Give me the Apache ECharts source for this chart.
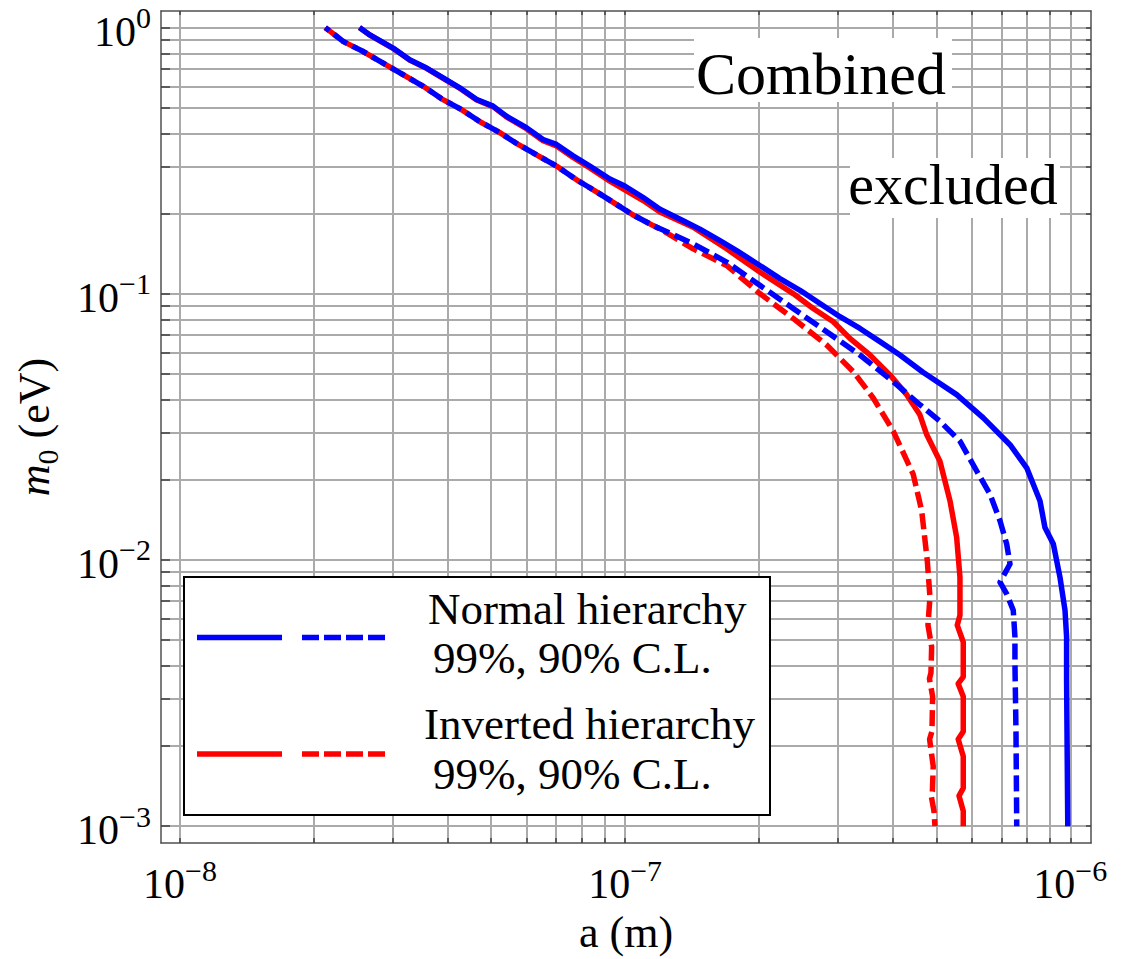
<!DOCTYPE html>
<html>
<head>
<meta charset="utf-8">
<script src="https://cdn.jsdelivr.net/npm/echarts@6/dist/echarts.min.js"></script>
<style>
  html, body { margin: 0; padding: 0; background: #ffffff; }
  #chart { width: 1124px; height: 959px; }
</style>
</head>
<body>
<div id="chart"></div>
<script>
// Exclusion contours in the (a, m0) plane. Each point is [a in metres, m0 in eV].
const nh99 = [
  [2.53e-8, 1.0], [2.67e-8, 0.939], [3.01e-8, 0.838], [3.28e-8, 0.757], [3.58e-8, 0.705],
  [3.90e-8, 0.647], [4.25e-8, 0.594], [4.64e-8, 0.537], [5.05e-8, 0.507], [5.41e-8, 0.465],
  [6.00e-8, 0.421], [6.54e-8, 0.380], [7.01e-8, 0.364], [7.64e-8, 0.330], [8.33e-8, 0.302],
  [9.24e-8, 0.270], [9.98e-8, 0.254], [1.098e-7, 0.230], [1.197e-7, 0.208], [1.350e-7, 0.188],
  [1.472e-7, 0.175], [1.633e-7, 0.1585], [1.780e-7, 0.1454], [2.007e-7, 0.1278], [2.227e-7, 0.1140],
  [2.470e-7, 0.1031], [2.739e-7, 0.0919], [3.038e-7, 0.0820], [3.369e-7, 0.0741], [3.736e-7, 0.0661],
  [4.143e-7, 0.0589], [4.667e-7, 0.0507], [5.555e-7, 0.0418], [6.376e-7, 0.0342],
  [7.32e-7, 0.0271], [7.98e-7, 0.0222], [8.55e-7, 0.01667], [8.77e-7, 0.01325], [9.16e-7, 0.01148],
  [9.48e-7, 0.00861], [9.73e-7, 0.00647], [9.81e-7, 0.00514], [9.81e-7, 0.00354], [9.87e-7, 0.001]
];
const nh90 = [
  [2.12e-8, 1.0], [2.33e-8, 0.886], [2.58e-8, 0.813], [2.86e-8, 0.736], [3.17e-8, 0.666],
  [3.52e-8, 0.602], [3.87e-8, 0.540], [4.29e-8, 0.492], [4.72e-8, 0.443], [5.23e-8, 0.403],
  [5.75e-8, 0.364], [6.38e-8, 0.330], [7.01e-8, 0.302], [7.78e-8, 0.268], [8.55e-8, 0.2437],
  [9.40e-8, 0.2206], [1.042e-7, 0.1977], [1.156e-7, 0.1804], [1.422e-7, 0.1541], [1.690e-7, 0.1316],
  [2.007e-7, 0.1076], [2.385e-7, 0.0881], [2.836e-7, 0.0720], [3.369e-7, 0.0589], [4.002e-7, 0.0468],
  [4.593e-7, 0.0383], [5.095e-7, 0.0332], [5.651e-7, 0.02795], [6.162e-7, 0.02159], [6.602e-7, 0.01765],
  [6.951e-7, 0.01404], [7.196e-7, 0.01148], [7.32e-7, 0.00966], [6.951e-7, 0.00825], [7.196e-7, 0.00746],
  [7.445e-7, 0.00647], [7.51e-7, 0.00514], [7.51e-7, 0.00408], [7.55e-7, 0.0023], [7.58e-7, 0.001]
];
const ih99 = [
  [2.53e-8, 1.0], [2.67e-8, 0.937], [3.01e-8, 0.836], [3.28e-8, 0.755], [3.58e-8, 0.703],
  [3.90e-8, 0.645], [4.25e-8, 0.592], [4.64e-8, 0.535], [5.05e-8, 0.505], [5.41e-8, 0.462],
  [6.00e-8, 0.417], [6.54e-8, 0.376], [7.01e-8, 0.359], [7.64e-8, 0.325], [8.33e-8, 0.297],
  [9.24e-8, 0.265], [1.007e-7, 0.2437], [1.098e-7, 0.224], [1.197e-7, 0.203], [1.422e-7, 0.1779],
  [1.690e-7, 0.1476], [2.007e-7, 0.1207], [2.385e-7, 0.1002], [2.645e-7, 0.0881], [2.935e-7, 0.0785],
  [3.198e-7, 0.0680], [3.547e-7, 0.0589], [3.934e-7, 0.0496], [4.29e-7, 0.0418], [4.593e-7, 0.0351],
  [4.757e-7, 0.0296], [5.095e-7, 0.0235], [5.367e-7, 0.01668], [5.555e-7, 0.01216], [5.651e-7, 0.00862],
  [5.651e-7, 0.0062], [5.572e-7, 0.00569], [5.748e-7, 0.00492], [5.748e-7, 0.00364], [5.60e-7, 0.00343],
  [5.748e-7, 0.00307], [5.748e-7, 0.00227], [5.60e-7, 0.00212], [5.748e-7, 0.00183], [5.748e-7, 0.00139],
  [5.623e-7, 0.0013], [5.748e-7, 0.00114], [5.748e-7, 0.001]
];
const ih90 = [
  [2.12e-8, 1.0], [2.33e-8, 0.886], [2.58e-8, 0.813], [2.86e-8, 0.736], [3.17e-8, 0.666],
  [3.52e-8, 0.602], [3.87e-8, 0.540], [4.29e-8, 0.492], [4.72e-8, 0.443], [5.23e-8, 0.403],
  [5.75e-8, 0.364], [6.38e-8, 0.330], [7.01e-8, 0.302], [7.78e-8, 0.268], [8.55e-8, 0.2437],
  [9.40e-8, 0.2206], [1.042e-7, 0.1977], [1.156e-7, 0.1804], [1.197e-7, 0.1753], [1.422e-7, 0.1475],
  [1.690e-7, 0.1278], [2.007e-7, 0.1002], [2.385e-7, 0.0808], [2.836e-7, 0.0642], [3.254e-7, 0.0510],
  [3.608e-7, 0.0406], [4.002e-7, 0.0305], [4.438e-7, 0.02097], [4.636e-7, 0.0153], [4.772e-7, 0.00995],
  [4.839e-7, 0.00725], [4.789e-7, 0.0057], [4.881e-7, 0.00472], [4.864e-7, 0.00377], [4.826e-7, 0.00358],
  [4.906e-7, 0.00307], [4.889e-7, 0.00227], [4.83e-7, 0.00212], [4.921e-7, 0.00168], [4.90e-7, 0.00135],
  [4.87e-7, 0.0013], [4.94e-7, 0.00114], [4.966e-7, 0.001]
];

// Axis decades (exponents of ten) that carry a label, and the minor multipliers
const xDecades = [-8, -7, -6];
const yDecades = [-3, -2, -1, 0];
const minorSteps = [1, 2, 3, 4, 5, 6, 7, 8, 9];

// Texts
const xTitle = 'a (m)';
const yTitle = '{i|m}{sub|0}{n| (eV)}';
const noteLines = ['Combined', 'excluded'];
const legendTexts = ['Normal hierarchy', '99%, 90% C.L.', 'Inverted hierarchy', '99%, 90% C.L.'];

// Visible window in log10 units
const X_MIN = -8.0427, X_MAX = -5.9535;
const Y_MIN = -3.0636, Y_MAX = 0.0624;

const FONT = '"Liberation Serif", "Times New Roman", "DejaVu Serif", serif';
const BLUE = '#0000ff', RED = '#ff0000';
const GRID_GRAY = '#aaaaaa', FRAME = '#505050';
const LINE_W = 5.5;

function logGrid(decades) {
  const out = [];
  for (let i = 0; i < decades.length - 1; i++) {
    minorSteps.forEach(k => out.push(decades[i] + Math.log10(k)));
  }
  out.push(decades[decades.length - 1]);
  return out;
}
const xTicks = logGrid(xDecades);
const yTicks = logGrid(yDecades);

const toLog = p => [Math.log10(p[0]), Math.log10(p[1])];

function powerLabel(v) {
  const e = Math.round(v);
  const s = e < 0 ? '\u2212' + (-e) : String(e);
  return '{b|10}{s|' + s + '}';
}
const powerRich = {
  b: { fontFamily: FONT, fontSize: 42, lineHeight: 50, color: '#000', verticalAlign: 'bottom' },
  s: { fontFamily: FONT, fontSize: 30, lineHeight: 24, color: '#000', verticalAlign: 'top' }
};

const chart = echarts.init(document.getElementById('chart'), null, { renderer: 'svg' });

function lineSeries(name, data, color, dashed, offset, z) {
  return {
    type: 'line',
    name: name,
    data: data.map(toLog),
    showSymbol: false,
    symbol: 'none',
    silent: true,
    z: z,
    lineStyle: {
      color: color,
      width: LINE_W,
      type: dashed ? [16, 6] : 'solid',
      dashOffset: offset,
      cap: 'butt',
      join: 'round'
    },
    itemStyle: { color: color }
  };
}

const frameLine = { show: true, onZero: false, lineStyle: { color: FRAME, width: 1.5 } };
const tickStyle = { color: '#404040', width: 1.5 };

const option = {
  backgroundColor: '#ffffff',
  animation: false,
  grid: { left: 161, right: 33, top: 11, bottom: 112, containLabel: false },
  xAxis: [
    {
      type: 'value', position: 'bottom', min: X_MIN, max: X_MAX,
      axisLine: frameLine,
      axisTick: { show: true, inside: true, length: 5, customValues: xTicks, lineStyle: tickStyle },
      axisLabel: { show: true, customValues: xDecades, formatter: powerLabel, margin: 12, rich: powerRich },
      splitLine: { show: true, lineStyle: { color: GRID_GRAY, width: 2 } },
      name: xTitle, nameLocation: 'middle', nameGap: 64,
      nameTextStyle: { fontFamily: FONT, fontSize: 44, color: '#000' }
    },
    {
      type: 'value', position: 'top', min: X_MIN, max: X_MAX,
      axisLine: frameLine,
      axisTick: { show: true, inside: true, length: 4, customValues: xTicks, lineStyle: tickStyle },
      axisLabel: { show: false },
      splitLine: { show: false }
    }
  ],
  yAxis: [
    {
      type: 'value', position: 'left', min: Y_MIN, max: Y_MAX,
      axisLine: frameLine,
      axisTick: { show: true, inside: true, length: 9, customValues: yTicks, lineStyle: tickStyle },
      axisLabel: { show: true, customValues: yDecades, formatter: powerLabel, margin: 10, rich: powerRich },
      splitLine: { show: true, lineStyle: { color: GRID_GRAY, width: 2 } },
      name: yTitle, nameLocation: 'middle', nameGap: 99, nameRotate: 90,
      nameTextStyle: {
        color: '#000',
        rich: {
          i: { fontFamily: FONT, fontSize: 44, fontStyle: 'italic', lineHeight: 50, verticalAlign: 'top' },
          sub: { fontFamily: FONT, fontSize: 30, lineHeight: 30, verticalAlign: 'bottom' },
          n: { fontFamily: FONT, fontSize: 44, lineHeight: 50, verticalAlign: 'top' }
        }
      }
    },
    {
      type: 'value', position: 'right', min: Y_MIN, max: Y_MAX,
      axisLine: frameLine,
      axisTick: { show: true, inside: true, length: 5, customValues: yTicks, lineStyle: tickStyle },
      axisLabel: { show: false },
      splitLine: { show: false }
    }
  ],
  series: [
    lineSeries('Inverted hierarchy 99% C.L.', ih99, RED, false, 0, 2),
    lineSeries('Inverted hierarchy 90% C.L.', ih90, RED, true, 0, 3),
    lineSeries('Normal hierarchy 99% C.L.', nh99, BLUE, false, 0, 4),
    lineSeries('Normal hierarchy 90% C.L.', nh90, BLUE, true, 11, 5)
  ],
  graphic: [
    // region annotation on white patches
    { type: 'rect', z: 50, shape: { x: 694, y: 38, width: 258, height: 64 }, style: { fill: '#fff' } },
    { type: 'text', z: 51, style: { text: noteLines[0], x: 821, y: 74, align: 'center', verticalAlign: 'middle', font: '60px ' + FONT, fill: '#000' } },
    { type: 'rect', z: 50, shape: { x: 850, y: 158, width: 210, height: 60 }, style: { fill: '#fff' } },
    { type: 'text', z: 51, style: { text: noteLines[1], x: 953, y: 184, align: 'center', verticalAlign: 'middle', font: '58px ' + FONT, fill: '#000' } },
    // legend box
    { type: 'rect', z: 60, shape: { x: 184, y: 577, width: 586, height: 238 }, style: { fill: '#fff', stroke: '#000', lineWidth: 2 } },
    { type: 'line', z: 61, shape: { x1: 197, y1: 637.5, x2: 282, y2: 637.5 }, style: { stroke: BLUE, lineWidth: LINE_W } },
    { type: 'line', z: 61, shape: { x1: 302, y1: 637.5, x2: 387, y2: 637.5 }, style: { stroke: BLUE, lineWidth: LINE_W, lineDash: [17, 5] } },
    { type: 'line', z: 61, shape: { x1: 197, y1: 754, x2: 282, y2: 754 }, style: { stroke: RED, lineWidth: LINE_W } },
    { type: 'line', z: 61, shape: { x1: 302, y1: 754, x2: 387, y2: 754 }, style: { stroke: RED, lineWidth: LINE_W, lineDash: [17, 5] } },
    { type: 'text', z: 61, style: { text: legendTexts[0], x: 428, y: 609, align: 'left', verticalAlign: 'middle', font: '45px ' + FONT, fill: '#000' } },
    { type: 'text', z: 61, style: { text: legendTexts[1], x: 433, y: 658, align: 'left', verticalAlign: 'middle', font: '45px ' + FONT, fill: '#000' } },
    { type: 'text', z: 61, style: { text: legendTexts[2], x: 424, y: 724, align: 'left', verticalAlign: 'middle', font: '45px ' + FONT, fill: '#000' } },
    { type: 'text', z: 61, style: { text: legendTexts[3], x: 433, y: 774, align: 'left', verticalAlign: 'middle', font: '45px ' + FONT, fill: '#000' } }
  ]
};

chart.setOption(option);
</script>
</body>
</html>
